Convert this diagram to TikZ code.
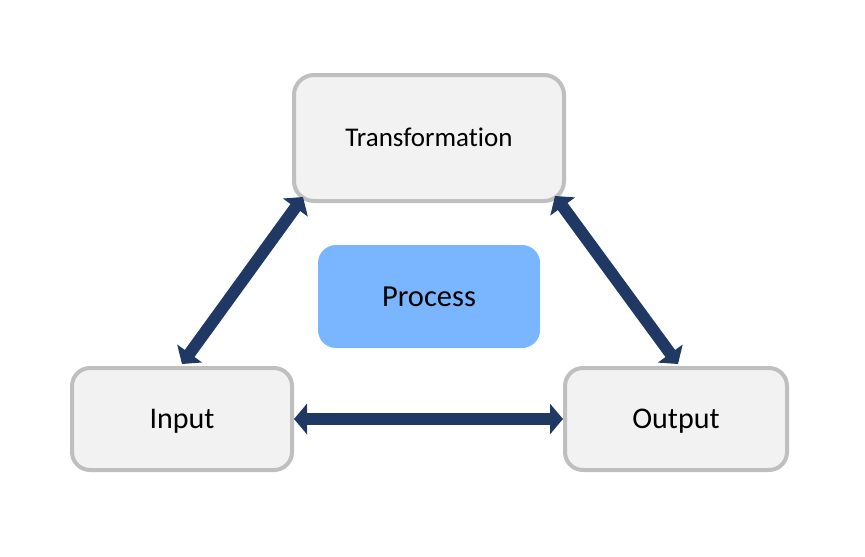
\documentclass[tikz,border=0pt]{standalone}
\usepackage{fontspec}
\setmainfont{Carlito}[Ligatures=NoCommon]
\usetikzlibrary{arrows.meta}
\definecolor{boxfill}{HTML}{F2F2F2}
\definecolor{boxline}{HTML}{BFBFBF}
\definecolor{procfill}{HTML}{7AB5FF}
\definecolor{arrowc}{HTML}{1F3864}
\tikzset{
  stagebox/.style={draw=boxline, line width=4pt, fill=boxfill, rounded corners=18pt, inner sep=0pt, font=\fontsize{30}{36}\selectfont, text height=19.3pt, text depth=0pt},
  procbox/.style={fill=procfill, rounded corners=18pt, inner sep=0pt, font=\fontsize{30.5}{36}\selectfont, text height=19.6pt, text depth=0pt},
  dblarrow/.style={draw=arrowc, line width=12pt, {Triangle[width=30pt,length=13pt]}-{Triangle[width=30pt,length=13pt]}}
}
\begin{document}
\begin{tikzpicture}[x=1pt,y=-1pt]
\useasboundingbox (0,0) rectangle (865,557);
\node[stagebox, minimum width=270pt, minimum height=126pt, rounded corners=20pt, font=\fontsize{27}{32}\selectfont, text height=17.4pt] (tr) at (429,138) {Transformation};
\node[procbox, minimum width=222pt, minimum height=103pt] (pr) at (429,296.5) {Process};
\node[stagebox, minimum width=220pt, minimum height=102pt] (in) at (182,419) {Input};
\node[stagebox, minimum width=222pt, minimum height=102pt] (out) at (676,419) {Output};
\coordinate (inTop) at (182,364);
\coordinate (trBL) at (303,197);
\coordinate (trBR) at (555,196);
\coordinate (outTop) at (678,364);
\draw[dblarrow] (in.east) -- (out.west);
\draw[dblarrow] (inTop) -- (trBL);
\draw[dblarrow] (trBR) -- (outTop);
\end{tikzpicture}
\end{document}
